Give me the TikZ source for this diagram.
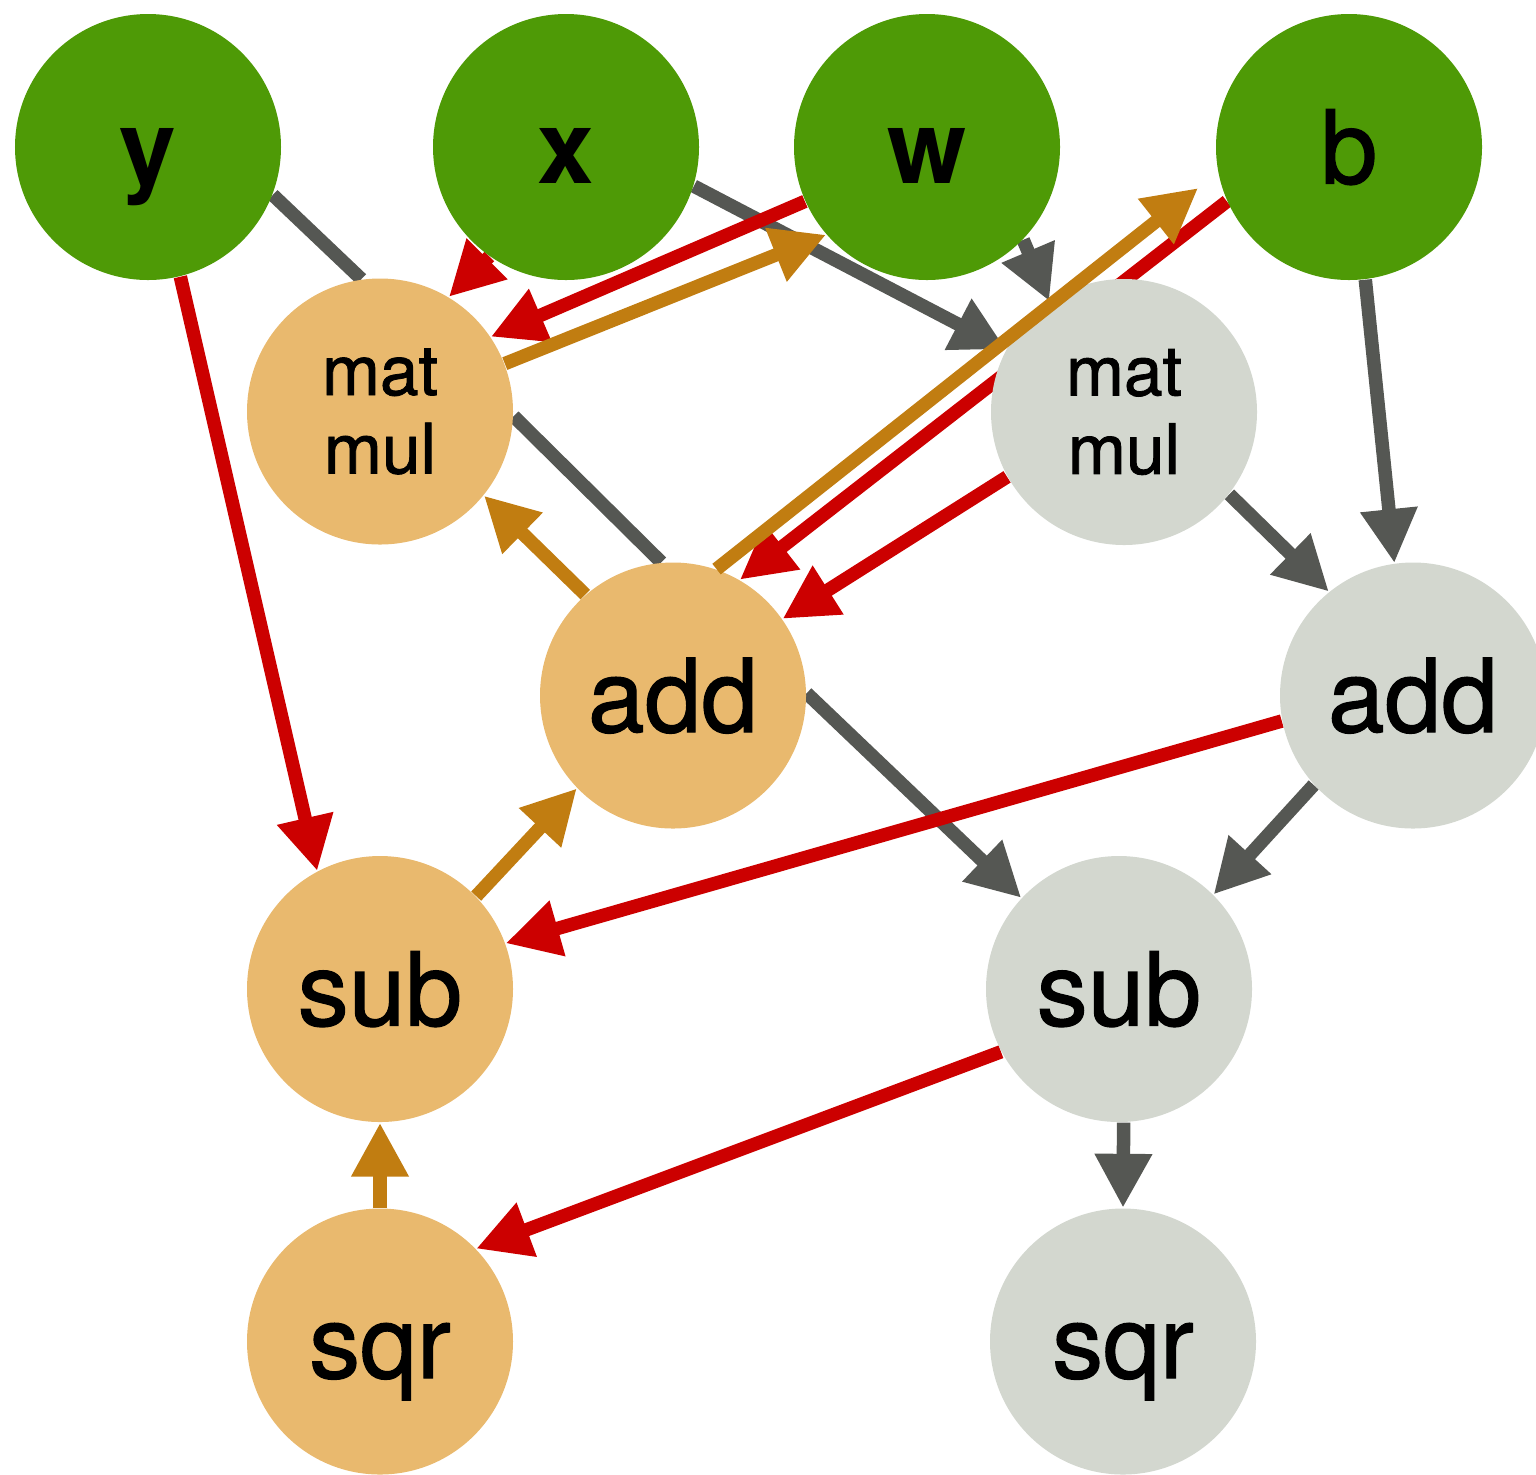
\documentclass[tikz,border=0pt]{standalone}
\usepackage{fontspec}
\setmainfont{TeX Gyre Heros}[FakeBold=1.2]
\newfontfamily\plainheros{TeX Gyre Heros}
\usetikzlibrary{arrows.meta,backgrounds}

\definecolor{paramgreen}{HTML}{4E9A06}
\definecolor{bwdfill}{HTML}{E9B96E}
\definecolor{fwdfill}{HTML}{D3D7CF}
\definecolor{fwdgray}{HTML}{555753}
\definecolor{gradred}{HTML}{CC0000}
\definecolor{updbrown}{HTML}{C17D11}

\begin{document}
\begin{tikzpicture}[
    circ/.style={
        circle,
        minimum size=2.66cm,
        inner sep=0pt
    },
    biglbl/.style={
        text height=0.9cm,
        text depth=0.17cm,
        font=\fontsize{29}{33}\selectfont
    },
    mmlbl/.style={
        align=center,
        font=\fontsize{19.8}{22.3}\selectfont
    },
    parambox/.style={circ, biglbl, fill=paramgreen},
    bwdbox/.style={circ, fill=bwdfill},
    fwdbox/.style={circ, fill=fwdfill},
    tip/.style={-{Triangle[length=0.54cm, width=0.54cm]}},
    fwdline/.style={draw=fwdgray, line width=0.135cm},
    fwdarrow/.style={fwdline, tip},
    gradarrow/.style={draw=gradred, line width=0.135cm, tip},
    updarrow/.style={draw=updbrown, line width=0.135cm, tip}
]
\useasboundingbox (0, 0) rectangle (15.36, -14.74);

% Riga 0: parametri
\node[parambox] (y) at (1.48, -1.47) {\plainheros\bfseries y};
\node[parambox] (x) at (5.66, -1.47) {\plainheros\bfseries x};
\node[parambox] (w) at (9.27, -1.47) {\plainheros\bfseries w};
\node[parambox] (b) at (13.49, -1.47) {b};

% Riga 1: matmul
\node[bwdbox, mmlbl] (mmo) at (3.80, -4.115) {mat\\mul};
\node[fwdbox, mmlbl] (mmg) at (11.24, -4.12) {mat\\mul};

% Riga 2: add
\node[bwdbox, biglbl] (addo) at (6.73, -6.955) {add};
\node[fwdbox, biglbl] (addg) at (14.13, -6.955) {add};

% Riga 3: sub
\node[bwdbox, biglbl] (subo) at (3.80, -9.89) {sub};
\node[fwdbox, biglbl] (subg) at (11.19, -9.89) {sub};

% Riga 4: sqr
\node[bwdbox, biglbl] (sqro) at (3.80, -13.415) {sqr};
\node[fwdbox, biglbl] (sqrg) at (11.23, -13.415) {sqr};

% === FRECCE ===

\begin{pgfonlayer}{background}
% Forward (grigio)
\draw[fwdline] (y.-21.5) -- (mmo.98.7);
\draw[fwdarrow] (x.-17.5) -- (mmg.152.7);
\draw[fwdarrow] (w.-44.4) -- (mmg.124.2);
\draw[fwdarrow] (b.-83.8) -- (addg.98.2);
\draw[fwdarrow] (mmg.-38.1) -- (addg.129.6);
\draw[fwdline] (mmo.-2.2) -- (addo.95);
\draw[fwdarrow] (addo.1.6) -- (subg.137.5);
\draw[fwdarrow] (addg.222.3) -- (subg.45.3);
\draw[fwdarrow] (subg.-88.3) -- (sqrg.90);

% Gradienti (rosso)
\draw[gradarrow] (subg.208.7) -- (sqro.44.1);
\draw[gradarrow] (addg.191.1) -- (subo.20.1);
\draw[gradarrow] (y.-76.4) -- (subo.118.9);
\draw[gradarrow] (mmg.209.8) -- (addo.35);
\draw[gradarrow] (b.204.4) -- (addo.60);
\draw[gradarrow] (w.204.7) -- (mmo.34.6);
\draw[gradarrow] (x.235.9) -- (mmo.59.4);
\end{pgfonlayer}

% Aggiornamenti (marrone), sopra i nodi
\draw[updarrow] (sqro.90) -- (subo.-90);
\draw[updarrow] (subo.44) -- (addo.224.3);
\draw[updarrow] (addo.131.2) -- (mmo.-39.9);
\draw[updarrow, shorten >=0.25cm] (addo.71.8) -- (b.191.5);
\draw[updarrow] (mmo.21) -- (w.221);

\end{tikzpicture}
\end{document}
